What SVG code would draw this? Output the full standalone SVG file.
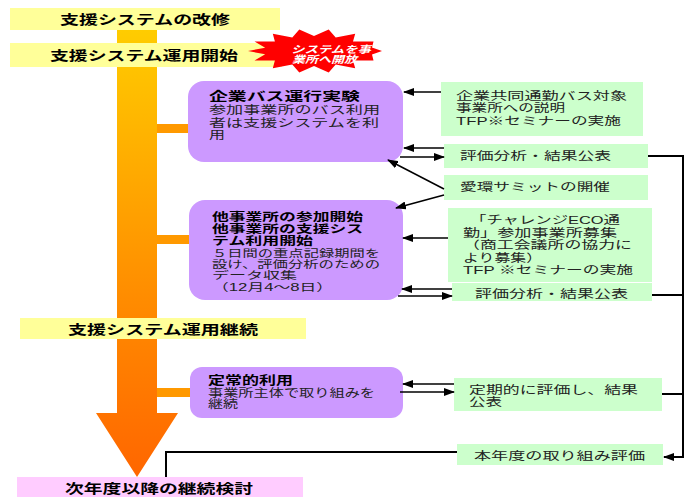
<svg xmlns="http://www.w3.org/2000/svg" width="693" height="497" viewBox="0 0 693 497">
<defs>
<linearGradient id="shaft" gradientUnits="userSpaceOnUse" x1="0" y1="30" x2="0" y2="477">
<stop offset="0" stop-color="#ffcc00"/>
<stop offset="0.6" stop-color="#ff8c00"/>
<stop offset="1" stop-color="#ff6600"/>
</linearGradient>
<marker id="ah" markerWidth="11" markerHeight="8" refX="10" refY="4" orient="auto" markerUnits="userSpaceOnUse">
<path d="M0,0 L11,4 L0,8 Z" fill="#000"/>
</marker>
</defs>
<style>
.bar{fill:#ffff99}
.pink{fill:#ffccff}
.purple{fill:#cc99ff}
.green{fill:#ccffcc}
.stub{fill:#ff9900}
.t{font-family:"Liberation Sans","Noto Sans CJK JP",sans-serif;font-size:11px;fill:#222}
.t2{font-family:"Liberation Sans","Noto Sans CJK JP",sans-serif;font-size:10.5px;fill:#222}
.b{font-family:"Liberation Sans","Noto Sans CJK JP",sans-serif;font-size:12px;font-weight:bold;fill:#000}
.b2{font-family:"Liberation Sans","Noto Sans CJK JP",sans-serif;font-size:11px;font-weight:bold;fill:#000}
.h{font-family:"Liberation Sans","Noto Sans CJK JP",sans-serif;font-size:13px;font-weight:bold;fill:#000}
.s{font-family:"Liberation Sans","Noto Sans CJK JP",sans-serif;font-size:10px;font-weight:bold;font-style:italic;fill:#fff}
.ln{stroke:#000;stroke-width:1.5;fill:none}
.br{stroke:#000;stroke-width:2;fill:none}
</style>
<rect width="693" height="497" fill="#fff"/>

<g id="main-arrow">
<path d="M117,30 H157 V413 H178 L137,477 L96,413 H117 Z" fill="url(#shaft)"/>
<rect class="stub" x="157" y="124" width="33" height="9"/>
<rect class="stub" x="157" y="235" width="33" height="9"/>
<rect class="stub" x="157" y="388" width="34" height="9"/>
</g>

<g id="bar1">
<rect class="bar" x="10" y="8" width="270" height="22"/>
<text class="h" x="60" y="24" textLength="170" lengthAdjust="spacingAndGlyphs">支援システムの改修</text>
</g>
<g id="bar2">
<rect class="bar" x="10" y="43" width="272" height="24"/>
<text class="h" x="50" y="60" textLength="188" lengthAdjust="spacingAndGlyphs">支援システム運用開始</text>
</g>
<g id="star">
<polygon fill="#ff0000" points="382,51 372,54.5 373.5,60.5 353,60.4 355.2,68.2 335.7,64.5 328.7,72.5 314,66 299.3,72.5 292.3,64.5 272.8,68.2 274.9,60.4 254.5,60.5 265.2,54.3 248,51 265.2,47.7 254.5,41.5 274.9,41.6 272.8,33.8 292.3,37.5 299.3,29.5 314,36 328.7,29.5 335.7,37.5 355.2,33.8 353,41.6 373.5,41.5 372,47.5"/>
<text class="s" x="291" y="53" textLength="80" lengthAdjust="spacingAndGlyphs">システムを事</text>
<text class="s" x="292" y="63" textLength="65" lengthAdjust="spacingAndGlyphs">業所へ開放</text>
</g>
<g id="bar3">
<rect class="bar" x="20" y="318" width="286" height="21"/>
<text class="h" x="68" y="334" textLength="190" lengthAdjust="spacingAndGlyphs">支援システム運用継続</text>
</g>
<g id="bar4">
<rect class="pink" x="17" y="477" width="286" height="20"/>
<text class="h" x="65" y="493" textLength="188" lengthAdjust="spacingAndGlyphs">次年度以降の継続検討</text>
</g>

<g id="box1">
<rect class="purple" x="188" y="81" width="215" height="81" rx="16"/>
<text class="b" x="209" y="101" textLength="151" lengthAdjust="spacingAndGlyphs">企業バス運行実験</text>
<text class="t" x="209" y="114" textLength="171" lengthAdjust="spacingAndGlyphs">参加事業所のバス利用</text>
<text class="t" x="209" y="127" textLength="170" lengthAdjust="spacingAndGlyphs">者は支援システムを利</text>
<text class="t" x="209" y="139" textLength="16" lengthAdjust="spacingAndGlyphs">用</text>
</g>
<g id="box2">
<rect class="purple" x="189" y="200" width="214" height="100" rx="16"/>
<text class="b2" x="212" y="221" textLength="151" lengthAdjust="spacingAndGlyphs">他事業所の参加開始</text>
<text class="b2" x="212" y="233" textLength="151" lengthAdjust="spacingAndGlyphs">他事業所の支援シス</text>
<text class="b2" x="212" y="245" textLength="101" lengthAdjust="spacingAndGlyphs">テム利用開始</text>
<text class="t2" x="212" y="257" textLength="168" lengthAdjust="spacingAndGlyphs">５日間の重点記録期間を</text>
<text class="t2" x="212" y="268" textLength="168" lengthAdjust="spacingAndGlyphs">設け、評価分析のための</text>
<text class="t2" x="212" y="279" textLength="85" lengthAdjust="spacingAndGlyphs">データ収集</text>
<text class="t2" x="212" y="291" textLength="121" lengthAdjust="spacingAndGlyphs">（12月4～8日）</text>
</g>
<g id="box3">
<rect class="purple" x="190" y="367" width="213" height="51" rx="12"/>
<text class="b" x="208" y="385" textLength="85" lengthAdjust="spacingAndGlyphs">定常的利用</text>
<text class="t" x="208" y="397" textLength="167" lengthAdjust="spacingAndGlyphs">事業所主体で取り組みを</text>
<text class="t" x="208" y="408" textLength="30" lengthAdjust="spacingAndGlyphs">継続</text>
</g>

<g id="g1">
<rect class="green" x="441" y="82" width="202" height="54"/>
<text class="t" x="456" y="100" textLength="171" lengthAdjust="spacingAndGlyphs">企業共同通勤バス対象</text>
<text class="t" x="456" y="112" textLength="109" lengthAdjust="spacingAndGlyphs">事業所への説明</text>
<text class="t" x="456" y="125" textLength="165" lengthAdjust="spacingAndGlyphs">TFP※セミナーの実施</text>
</g>
<g id="g2">
<rect class="green" x="444" y="144" width="204" height="24"/>
<text class="t" x="460" y="160" textLength="151" lengthAdjust="spacingAndGlyphs">評価分析・結果公表</text>
</g>
<g id="g3">
<rect class="green" x="444" y="175" width="204" height="25"/>
<text class="t" x="460" y="191" textLength="150" lengthAdjust="spacingAndGlyphs">愛環サミットの開催</text>
</g>
<g id="g4">
<rect class="green" x="448" y="208" width="204" height="74"/>
<text class="t" x="470" y="224" textLength="150" lengthAdjust="spacingAndGlyphs">「チャレンジECO通</text>
<text class="t" x="463" y="237" textLength="154" lengthAdjust="spacingAndGlyphs">勤」参加事業所募集</text>
<text class="t" x="463" y="249" textLength="169" lengthAdjust="spacingAndGlyphs">（商工会議所の協力に</text>
<text class="t" x="463" y="262" textLength="79" lengthAdjust="spacingAndGlyphs">より募集）</text>
<text class="t" x="463" y="274" textLength="170" lengthAdjust="spacingAndGlyphs">TFP ※セミナーの実施</text>
</g>
<g id="g5">
<rect class="green" x="452" y="283" width="200" height="18"/>
<text class="t" x="475" y="298" textLength="153" lengthAdjust="spacingAndGlyphs">評価分析・結果公表</text>
</g>
<g id="g6">
<rect class="green" x="454" y="378" width="208" height="33"/>
<text class="t" x="469" y="394" textLength="169" lengthAdjust="spacingAndGlyphs">定期的に評価し、結果</text>
<text class="t" x="469" y="406" textLength="33" lengthAdjust="spacingAndGlyphs">公表</text>
</g>
<g id="g7">
<rect class="green" x="457" y="444" width="206" height="21"/>
<text class="t" x="474" y="460" textLength="171" lengthAdjust="spacingAndGlyphs">本年度の取り組み評価</text>
</g>

<g id="connectors">
<path class="ln" d="M441,92 H404" marker-end="url(#ah)"/>
<path class="ln" d="M444,148 H404" marker-end="url(#ah)"/>
<path class="ln" d="M400,157 H444" marker-end="url(#ah)"/>
<path class="ln" d="M444,189 L388,160" marker-end="url(#ah)"/>
<path class="ln" d="M444,195 L396,208" marker-end="url(#ah)"/>
<path class="ln" d="M448,238 H403" marker-end="url(#ah)"/>
<path class="ln" d="M452,289 H402" marker-end="url(#ah)"/>
<path class="ln" d="M398,296 H452" marker-end="url(#ah)"/>
<path class="ln" d="M454,384 H403" marker-end="url(#ah)"/>
<path class="ln" d="M400,392 H454" marker-end="url(#ah)"/>
<path class="br" d="M648,156 H683 V457 H664" marker-end="url(#ah)"/>
<path class="br" d="M652,295 H683"/>
<path class="br" d="M662,394 H683"/>
<path class="br" d="M457,452 H166 V477"/>
</g>
</svg>
